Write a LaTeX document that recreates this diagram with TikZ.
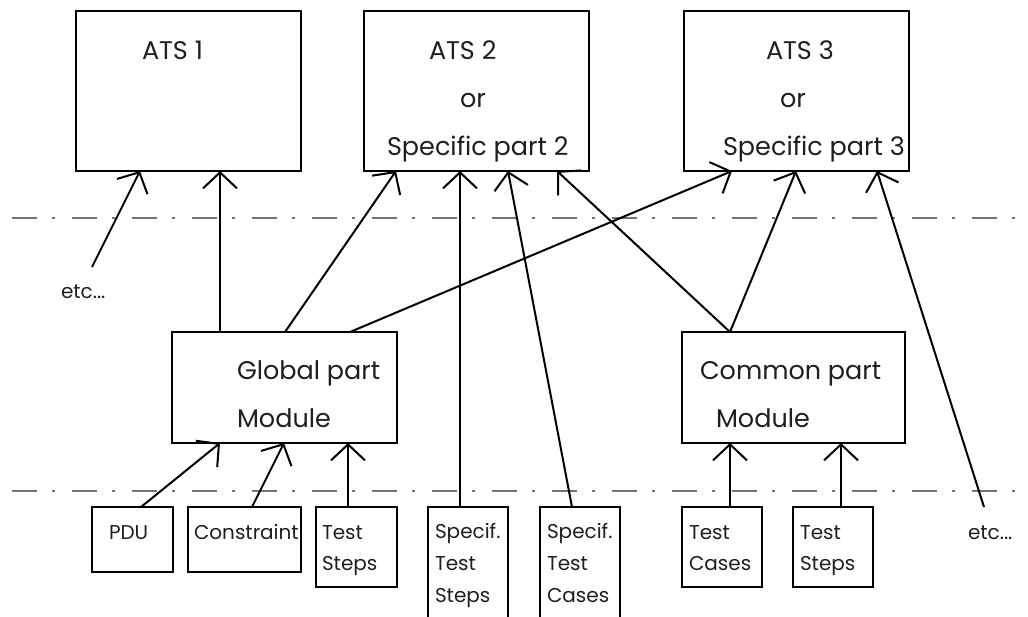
\documentclass[tikz,border=0pt]{standalone}
\usepackage{fontspec}
\setmainfont{Poppins}
\usetikzlibrary{arrows.meta,calc}

\begin{document}
\begin{tikzpicture}[x=1pt,y=-1pt,
  every node/.style={inner sep=0pt,outer sep=0pt},
  box/.style={draw=black,line width=2pt,rectangle,fill=white},
  big/.style={anchor=base west,font=\fontsize{25.5}{30}\selectfont,text=black!88},
  small/.style={anchor=base west,font=\fontsize{20}{24}\selectfont,text=black!88},
  link/.style={draw=black,line width=2pt,-{Straight Barb[length=16pt,width=34pt,line width=2pt]}},
  layer/.style={draw=black!55,line width=1.5pt,dash pattern=on 25pt off 15pt on 3pt off 17pt}
]
\useasboundingbox (0,0) rectangle (1028,616);

% level separators
\coordinate (s1a) at (12,218);  \coordinate (s1b) at (1028,218);
\coordinate (s2a) at (12,491);  \coordinate (s2b) at (1028,491);
\draw[layer] (s1a) -- (s1b);
\draw[layer] (s2a) -- (s2b);

% top row: abstract test suites
\node[box,minimum width=225,minimum height=160] (ats1) at (188.5,91) {};
\node[box,minimum width=225,minimum height=160] (ats2) at (476.5,91) {};
\node[box,minimum width=225,minimum height=160] (ats3) at (796.5,91) {};

% middle row: modules
\node[box,minimum width=225,minimum height=111] (glob) at (284.5,387.5) {};
\node[box,minimum width=223,minimum height=111] (comm) at (793.5,387.5) {};

% bottom row: parts
\node[box,minimum width=81,minimum height=65] (pdu) at (132.5,539.5) {};
\node[box,minimum width=113,minimum height=65] (cons) at (244.5,539.5) {};
\node[box,minimum width=81,minimum height=80] (tsg) at (356.5,547) {};
\node[box,minimum width=80,minimum height=124] (sts) at (468,569) {};
\node[box,minimum width=80,minimum height=124] (stc) at (580,569) {};
\node[box,minimum width=80,minimum height=80] (tcc) at (722,547) {};
\node[box,minimum width=80,minimum height=80] (tsc) at (833,547) {};

% labels
\node[big] (t1) at (142,59) {ATS 1};
\node[big] (t2a) at (429,59) {ATS 2};
\node[big] (t2b) at (460,107) {or};
\node[big] (t2c) at (387,155) {Specific part 2};
\node[big] (t3a) at (766,59) {ATS 3};
\node[big] (t3b) at (780,107) {or};
\node[big] (t3c) at (723,155) {Specific part 3};
\node[big] (g1) at (237,379) {Global part};
\node[big] (g2) at (237,427) {Module};
\node[big] (c1) at (700,379) {Common part};
\node[big] (c2) at (716,427) {Module};

\node[small] (l1) at (109,539) {PDU};
\node[small] (l2) at (194,539) {Constraint};
\node[small] (l3) at (322,539) {Test};
\node[small] (l4) at (322,570) {Steps};
\node[small] (l5) at (435,538) {Specif.};
\node[small] (l6) at (435,570) {Test};
\node[small] (l7) at (435,602) {Steps};
\node[small] (l8) at (547,538) {Specif.};
\node[small] (l9) at (547,570) {Test};
\node[small] (l10) at (547,602) {Cases};
\node[small] (l11) at (689,539) {Test};
\node[small] (l12) at (689,570) {Cases};
\node[small] (l13) at (800,539) {Test};
\node[small] (l14) at (800,570) {Steps};
\node[small] (etcl) at (61,298) {etc...};
\node[small] (etcr) at (968,539) {etc...};

% loose ends of the "etc" links
\coordinate (e1) at (92,267);
\coordinate (e2) at (984,507);

% links into the test suites
\draw[link] (e1) -- ([xshift=64]ats1.south west);
\draw[link] ([xshift=48]glob.north west) -- ([xshift=144]ats1.south west);
\draw[link] ([xshift=113]glob.north west) -- ([xshift=32]ats2.south west);
\draw[link] ([xshift=178]glob.north west) -- ([xshift=48]ats3.south west);
\draw[link] ([xshift=-8]sts.north) -- ([xshift=96]ats2.south west);
\draw[link] ([xshift=-8]stc.north) -- ([xshift=144]ats2.south west);
\draw[link] ([xshift=48]comm.north west) -- ([xshift=193]ats2.south west);
\draw[link] ([xshift=48]comm.north west) -- ([xshift=112]ats3.south west);
\draw[link] (e2) -- ([xshift=193]ats3.south west);

% links into the modules
\draw[link] ([xshift=8.5]pdu.north) -- ([xshift=48]glob.south west);
\draw[link] ([xshift=7.5]cons.north) -- ([xshift=112]glob.south west);
\draw[link] ([xshift=-8.5]tsg.north) -- ([xshift=176]glob.south west);
\draw[link] ([xshift=8]tcc.north) -- ([xshift=48]comm.south west);
\draw[link] ([xshift=8]tsc.north) -- ([xshift=159]comm.south west);
\end{tikzpicture}
\end{document}
